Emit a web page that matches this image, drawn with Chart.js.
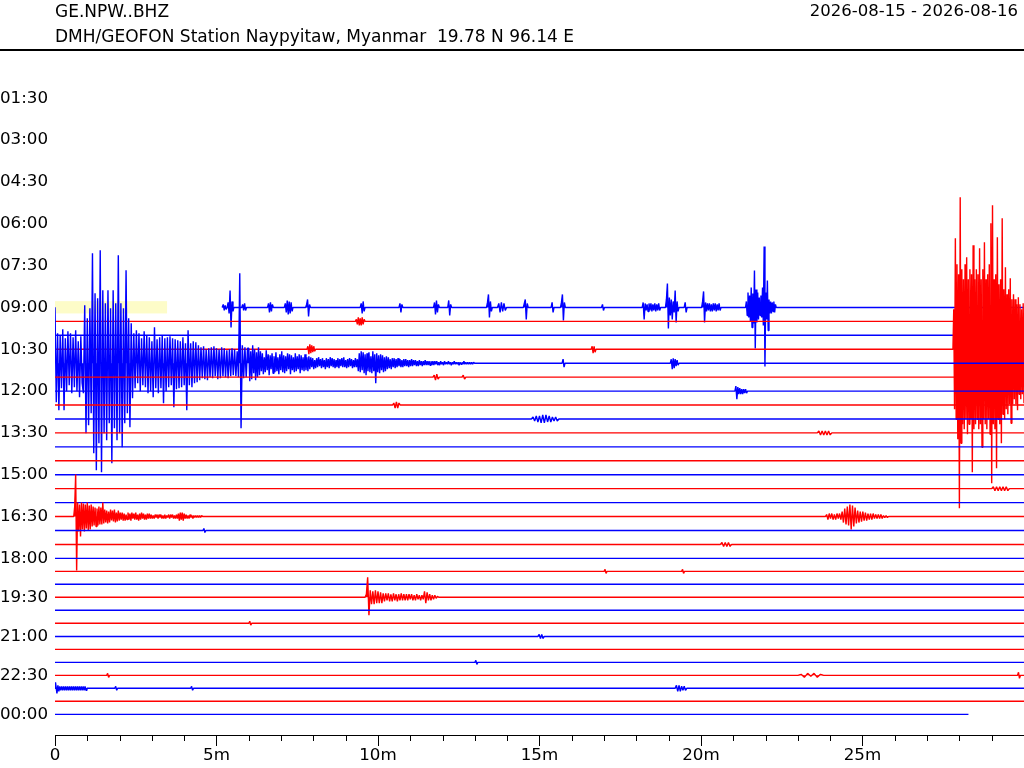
<!DOCTYPE html>
<html><head><meta charset="utf-8">
<script src="https://cdn.jsdelivr.net/npm/chart.js@4"></script>
<style>
html,body{margin:0;padding:0;background:#fff;width:1024px;height:768px;overflow:hidden}
#wrap{position:relative;width:1024px;height:768px}
#c{position:absolute;left:0;top:0;width:1024px;height:768px}
.t{position:absolute;font-family:'DejaVu Sans';font-size:17px;line-height:17px;color:#000;white-space:pre}
</style></head><body>
<div id="wrap">
<canvas id="c" width="1024" height="768"></canvas>
<div class="t" style="left:55px;top:3.3px">GE.NPW..BHZ</div>
<div class="t" style="left:55px;top:27.6px">DMH/GEOFON Station Naypyitaw, Myanmar  19.78 N 96.14 E</div>
<div class="t" style="right:6px;top:3px;font-size:16.5px;line-height:16.5px">2026-08-15 - 2026-08-16</div>
<div style="position:absolute;left:0;top:49.4px;width:1024px;height:1.3px;background:#000"></div>
</div>
<script>
// ---------------- data ----------------
const yLabelRows = [3,6,9,12,15,18,21,24,27,30,33,36,39,42,45,48];
const yLabels = ['01:30','03:00','04:30','06:00','07:30','09:00','10:30','12:00','13:30','15:00','16:30','18:00','19:30','21:00','22:30','00:00'];
const xTickValues = [0,1,2,3,4,5,6,7,8,9,10,11,12,13,14,15,16,17,18,19,20,21,22,23,24,25,26,27,28,29];
const xMajorValues = [0,5,10,15,20,25];
const xMajorLabels = ['0','5m','10m','15m','20m','25m'];

const firstRow = 18, lastRow = 48;
const traceStartMin = 5.175;   // data begins in row 09:00
const traceEndMin = 28.28;     // data ends in row 00:00
const COUNTS_PER_ROW = 13.94;
// per-row DC offset (rows 18..48), in rows
const rowDrift = [0,0,0,0,0,0,0,0,0,0,0,0,0,0,0,0,0,0,0,
  -0.07,-0.14,-0.21,-0.28,-0.35,-0.40,-0.47,-0.54,-0.61,-0.68,-0.75,-0.81];
const highlightSpan = [0, 3.47];

// big event, row 10:30 (starts 27.8 min, dt 0.025 min)
const quakeA = [0,40,-60,111,-70,85,-90,75,-159,152,-94,80,-75,70,-80,85,-70,92,-85,70,
  -75,80,-70,75,-123,104,-80,70,-75,80,-70,75,-80,101,-75,70,-98,80,-70,107,
  -75,70,-80,75,-70,85,-85,126,-134,144,-75,70,-80,75,-119,112,-70,65,-75,70,
  -94,131,-65,60,-70,82,-60,55,-65,60,-55,71,-74,50,-55,55,-50,50,-55,45,
  -61,52,-45,45,-50,40,-45,46,-54,40];
// continuation, row 11:00 (0 - 6 min, dt 0.04)
const quakeB1 = [56,-39,30,-47,28,-25,34,-47,25,-28,32,-22,30,-30,26,-24,33,-28,22,-34,27,-20,
  -30,58,-70,45,-62,55,-50,110,-90,70,-107,65,-80,113,-109,73,-70,60,-77,73,-60,55,-100,73,-65,60,-77,108,-70,60,-84,55,-60,93,-50,45,-64,40,
  -35,30,-25,33,-20,30,-28,25,-22,32,-24,28,-30,26,-28,22,-34,36,-25,24,-30,26,-25,28,-40,25,-28,26,-24,27,-22,25,-44,24,-26,23,-25,22,-24,26,-22,20,-47,33,-22,20,-24,22,-20,21,-19,18,
  -17,16,-15,17,-16,14,-17,15,-14,16,-15,17,-13,15,-16,14,-15,16,-13,15,-14,13,-15,14,-13,15,-12,14,-13,12,-14,
  90,-65,18,-15,16,-14,15];
// coda, row 11:00 (6 - 13 min, dt 0.03)
const quakeB2 = [15,-18,12,-16,18,-10,14,-17,11,-14,16,-12,
  12,-8,10,-11,6,-9,13,-7,9,-12,8,-6,10,-10,7,-9,11,-8,6,-11,9,-7,12,-9,8,-10,7,-8,10,-6,
  9,-11,8,-7,6,-9,10,-8,7,-6,9,-10,8,-7,6,-8,9,-7,6,-8,7,-6,
  6,-4,5,-6,3,-5,5,-4,6,-3,4,-5,5,-4,3,-6,5,-4,4,-5,6,-3,5,-4,4,-5,3,-4,5,-5,
  4,-3,5,-4,6,-4,3,-5,4,-4,5,-3,4,-5,3,-4,5,-4,4,
  -8,10,-9,12,-7,11,-10,9,-12,10,-8,11,-9,7,-10,12,-8,9,-20,10,-9,8,-10,9,-7,8,-9,6,-8,7,-6,
  6,-5,4,-6,5,-4,5,-5,4,-4,5,-3,4,-4,3,-4,4,-3,4,-3,3,-4,3,-3,4,-3,3,-2,3,-3,
  2,-3,3,-2,2,-3,2,-2,3,-2,2,-2,2,-2,2,-2,2,-2,
  2,-1,2,-2,1,-2,2,-1,1,-2,2,-1,1,-1,2,-1,1,-2,1,-1,2,-1,1,-1,1,-2,1,-1,1,-1,
  2,-1,1,-1,1,-1,1,-1,1,-1,1,0];
// row 16:30 events
const eventC1 = [0,10,42,-54,14,-15,12,-20,14,-13,13,-15,12,-12,14,-14,11,-13,12,-10,10,-9,9,-10,8,-9,10,-8,9,-8,14,-7,7,-6];
const eventC2 = [6,-7,5,-6,7,-4,6,-5,7,-6,4,-5,6,-4,
  4,-3,4,-4,3,-4,2,-3,4,-3,3,-4,4,-2,3,-3,4,-3,2,-4,3,-3,4,-2,3,-3,2,-3,3,-2,3,
  -2,2,-2,1,-2,2,-1,2,-2,2,-1,2,-2,1,-2,2,-2,1,-1,2,-2,2,-1,2,-2,1,-2,2,-2,
  3,-4,4,-3,4,-4,3,-2,
  2,-2,1,-2,2,-1,1,-2,1,-1,1,-1,1,-1,1,-1,1,0];
const eventD = [0,2,-3,3,-2,3,-3,2,-3,3,-2,3,-3,5,-6,8,-8,10,-9,12,-13,11,-10,9,
  -7,6,-6,5,-5,5,-4,4,-4,3,-3,3,-3,3,-2,2,-2,2,-2,2,-2,1,-1,1,-1,0];
// row 19:30 event
const eventE = [0,3,20,-18,7,-7,6,-7,7,-6,6,-6,5,-6,
  4,-4,4,-3,4,-4,3,-4,4,-3,3,-4,3,-3,4,-3,3,-3,3,
  -3,3,-2,3,-3,2,-3,3,-2,2,-3,2,-2,6,-6,5,-3,3,-3,2,-2,2,-1,1,0];
// small bursts: [row, start minute, sample step, amplitudes]
const smallBursts = [
 [18,5.18,0.03,[0,3,-3,2,-2,0]],
 [18,5.33,0.03,[0,5,-6,17,-20,6,-4,0]],
 [18,5.78,0.03,[0,3,-3,4,-3,0]],
 [18,6.58,0.03,[0,4,-5,5,-4,3,0]],
 [18,7.10,0.03,[0,4,-5,7,-7,6,-6,5,-4,0]],
 [18,7.76,0.03,[0,3,8,-9,3,0]],
 [18,9.45,0.03,[0,4,-6,6,-4,0]],
 [18,10.65,0.03,[0,4,-5,3,0]],
 [18,11.72,0.03,[0,5,-7,7,-5,3,0]],
 [18,12.16,0.03,[0,7,-8,3,0]],
 [18,13.36,0.03,[0,5,13,-10,6,-4,0]],
 [18,13.70,0.04,[0,4,-5,5,-4,4,-3,0]],
 [18,14.50,0.03,[0,4,8,-12,4,0]],
 [18,15.36,0.03,[0,5,-5,0]],
 [18,15.65,0.03,[0,5,13,-13,5,0]],
 [18,16.92,0.03,[0,3,-3,0]],
 [18,18.18,0.03,[0,5,-12,4,-3,3,-4,4,-3,4,-4,3,-3,4,-4,3,-3,4,-3,0]],
 [18,18.90,0.03,[0,8,24,-21,10,-8,8,-12,6,-5,17,-15,6,-4,0]],
 [18,19.48,0.03,[0,5,-5,0]],
 [18,20.02,0.03,[0,6,16,-15,5,-4,4,-3,4,-4,3,-4,4,-3,4,-4,3,-3,4,-3,0]],
 [18,21.38,0.025,[0,6,-8,15,-10,12,-14,20,-20,14,-16,37,-41,18,-15,15,-12,10,-8,12,-10,20,-18,61,-59,15,-12,27,-23,8,-6,6,-6,5,-4,6,-5,3,0]],
 [19,9.30,0.03,[0,2,-3,4,-4,3,-4,4,-3,2,0]],
 [21,7.80,0.03,[0,3,-5,5,-4,4,-3,3,-2,0]],
 [21,16.60,0.03,[0,3,-4,3,-3,0]],
 [22,15.70,0.03,[0,4,-4,0]],
 [22,19.05,0.03,[0,4,-6,5,-5,4,-3,3,-2,0]],
 [23,11.70,0.04,[0,2,-3,3,-2,0]],
 [23,12.60,0.04,[0,2,-2,0]],
 [24,21.05,0.03,[0,5,-8,4,-3,3,-3,2,-3,2,-2,2,-2,0]],
 [25,10.45,0.04,[0,2,-3,3,-3,2,0]],
 [26,14.75,0.05,[0,2,-2,3,-3,3,-4,4,-4,4,-3,3,-3,2,-2,2,-2,0]],
 [27,23.60,0.05,[0,2,-2,2,-2,2,-2,2,-2,0]],
 [31,29.00,0.05,[0,2,-2,2,-2,2,-2,2,-2,2,-2,0]],
 [34,4.58,0.03,[0,2,-2,0]],
 [35,20.60,0.05,[0,2,-2,2,-2,2,-2,0]],
 [37,17.00,0.03,[0,2,-2,0]],
 [37,19.40,0.03,[0,2,-2,0]],
 [41,6.00,0.03,[0,2,-2,0]],
 [42,14.95,0.04,[0,2,-2,2,-2,0]],
 [44,13.00,0.03,[0,2,-2,0]],
 [45,1.60,0.03,[0,2,-2,0]],
 [45,23.00,0.10,[0,1,-2,2,-1,2,-2,1,0]],
 [45,29.80,0.03,[0,3,-3,0]],
 [46,0.00,0.03,[0,6,-5,3,-3,2,-2,2,-2,2,-2,2,-2,2,-2,2,-2,2,-2,2,-2,2,-2,2,-2,2,-2,2,-2,2,-2,2,-2,0]],
 [46,1.85,0.03,[0,2,-2,0]],
 [46,4.20,0.03,[0,2,-2,0]],
 [46,19.20,0.04,[0,3,-3,3,-3,2,-2,2,-2,0]]
];

// ---------------- build ----------------
const segments = smallBursts.concat([
  [21,27.8,0.025,quakeA],
  [22,0,0.04,quakeB1],
  [22,6.0,0.03,quakeB2],
  [33,0.58,0.03,eventC1],
  [33,1.6,0.03,eventC2],
  [33,23.85,0.04,eventD],
  [39,9.6,0.04,eventE]
]);
function level(r){ return r + (r >= firstRow && r <= lastRow ? rowDrift[r-firstRow] : 0); }

const datasets = [];
for (let r = firstRow; r <= lastRow; r++) {
  const base = level(r);
  const start = r === firstRow ? traceStartMin : 0;
  const end = r === lastRow ? traceEndMin : 30;
  const pts = [{x:start, y:base}];
  segments.filter(g => g[0] === r).sort((a,b) => a[1]-b[1]).forEach(g => {
    g[3].forEach((a,i) => pts.push({x: g[1] + i*g[2], y: base - a/COUNTS_PER_ROW}));
  });
  if (pts[pts.length-1].x < end) pts.push({x:end, y:base});
  const col = r % 2 === 0 ? '#0000ff' : '#ff0000';
  datasets.push({
    data: pts,
    borderColor: col,
    backgroundColor: col,
    fill: { value: base },
    borderWidth: 1.4,
    order: lastRow - r
  });
}

const highlightPlugin = {
  id:'hl',
  beforeDatasetsDraw(chart){
    const {x, y} = chart.scales; const ctx = chart.ctx;
    const x0 = x.getPixelForValue(highlightSpan[0]), x1 = x.getPixelForValue(highlightSpan[1]);
    const y0 = y.getPixelForValue(level(18) - 0.45), y1 = y.getPixelForValue(level(18) + 0.43);
    ctx.save(); ctx.fillStyle = '#fdfcc8'; ctx.fillRect(x0, y0, x1-x0, y1-y0); ctx.restore();
  }
};
const minorTickPlugin = {
  id:'minorTicks',
  afterDraw(chart){
    const x = chart.scales.x, ctx = chart.ctx, b = chart.chartArea.bottom;
    ctx.save(); ctx.strokeStyle = '#000'; ctx.lineWidth = 1; ctx.beginPath();
    xTickValues.forEach(v => {
      if (xMajorValues.includes(v)) return;
      const px = Math.round(x.getPixelForValue(v)) + 0.5;
      ctx.moveTo(px, b); ctx.lineTo(px, b + 6);
    });
    ctx.stroke(); ctx.restore();
  }
};

Chart.defaults.font.family = 'DejaVu Sans';
Chart.defaults.font.size = 16.7;
Chart.defaults.color = '#000';

new Chart(document.getElementById('c'), {
  type: 'line',
  data: { datasets },
  options: {
    responsive: false, animation: false, events: [],
    layout: { padding: { top: 50, left: 0, right: 0, bottom: 0 } },
    plugins: { legend: { display: false }, tooltip: { enabled: false } },
    elements: { point: { radius: 0 }, line: { tension: 0, borderJoinStyle: 'bevel' } },
    scales: {
      x: {
        type: 'linear', min: 0, max: 30, position: 'bottom',
        afterBuildTicks: s => { s.ticks = xTickValues.map(v => ({ value: v })); },
        ticks: { autoSkip: false, maxRotation: 0, padding: 0, color: '#000',
          callback: v => { const k = xMajorValues.indexOf(v); return k >= 0 ? xMajorLabels[k] : ''; } },
        grid: { display: true, drawOnChartArea: false, drawTicks: true, tickLength: 11, tickWidth: 1,
          tickColor: c => (c.tick && xMajorValues.includes(c.tick.value)) ? '#000' : 'rgba(0,0,0,0)' },
        border: { display: true, color: '#000', width: 1 },
        afterFit: s => { s.height = 33; }
      },
      y: {
        type: 'linear', reverse: true, min: -0.466, max: 48.67,
        afterBuildTicks: s => { s.ticks = yLabelRows.map(r => ({ value: level(r) })); },
        ticks: { autoSkip: false, crossAlign: 'far', padding: 0, color: '#000',
          callback: (v, i) => yLabels[i] },
        grid: { display: false }, border: { display: false },
        afterFit: s => { s.width = 55; }
      }
    }
  },
  plugins: [highlightPlugin, minorTickPlugin]
});
</script>
</body></html>
